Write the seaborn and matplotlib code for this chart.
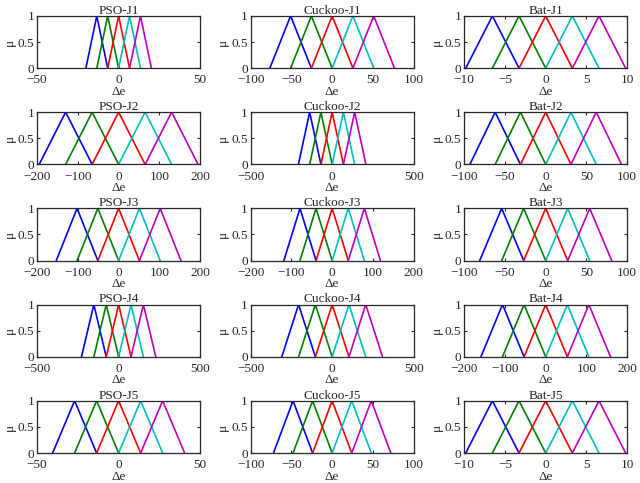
import numpy as np
import pandas as pd
import matplotlib
matplotlib.use("Agg")
import matplotlib.pyplot as plt
import seaborn as sns

# membership function spacing (distance between neighbouring peaks)
algos = ["PSO", "Cuckoo", "Bat"]
pso_spacing = [6.7, 65, 51, 76, 13.5]
cuckoo_spacing = [25.5, 69, 39.5, 103, 24]
bat_spacing = [3.27, 31, 27, 53, 3.27]
pso_xlim = [50, 200, 200, 500, 50]
cuckoo_xlim = [100, 500, 200, 500, 100]
bat_xlim = [10, 100, 100, 200, 10]
pso_ticks = [[-50, 0, 50], [-200, -100, 0, 100, 200], [-200, -100, 0, 100, 200], [-500, 0, 500], [-50, 0, 50]]
cuckoo_ticks = [[-100, -50, 0, 50, 100], [-500, 0, 500], [-200, -100, 0, 100, 200], [-500, 0, 500], [-100, -50, 0, 50, 100]]
bat_ticks = [[-10, -5, 0, 5, 10], [-100, -50, 0, 50, 100], [-100, -50, 0, 50, 100], [-200, -100, 0, 100, 200], [-10, -5, 0, 5, 10]]
mf_index = [-2, -1, 0, 1, 2]
mf_names = ["NB", "NS", "Z", "PS", "PB"]
colors = [(0, 0, 1), (0, 0.5, 0), (1, 0, 0), (0, 0.75, 0.75), (0.75, 0, 0.75)]

spacing = {"PSO": pso_spacing, "Cuckoo": cuckoo_spacing, "Bat": bat_spacing}
xlims = {"PSO": pso_xlim, "Cuckoo": cuckoo_xlim, "Bat": bat_xlim}
ticks = {"PSO": pso_ticks, "Cuckoo": cuckoo_ticks, "Bat": bat_ticks}

sns.set_style("ticks")
plt.rcParams['font.family'] = ['Liberation Serif', 'DejaVu Serif']

fig, axes = plt.subplots(5, 3, figsize=(6.4, 4.83), dpi=100)
fig.subplots_adjust(left=0.058, right=0.98, top=0.967, bottom=0.062, hspace=0.84, wspace=0.31)

for j, algo in enumerate(algos):
    for i in range(5):
        ax = axes[i, j]
        s = spacing[algo][i]
        rows = []
        for k, name in zip(mf_index, mf_names):
            c = k * s
            rows += [(c - s, 0, name), (c, 1, name), (c + s, 0, name)]
        df = pd.DataFrame(rows, columns=["x", "mu", "mf"])
        sns.lineplot(data=df, x="x", y="mu", hue="mf", palette=colors, sort=False,
                     estimator=None, legend=False, linewidth=1.2, ax=ax)
        lim = xlims[algo][i]
        ax.set_xlim(-lim, lim)
        ax.set_ylim(0, 1)
        ax.set_xticks(ticks[algo][i])
        ax.set_yticks([0, 0.5, 1])
        ax.set_yticklabels(["0", "0.5", "1"])
        ax.tick_params(direction="in", top=True, right=True, length=2.5, labelsize=9.5)
        ax.tick_params(axis="x", pad=4.5)
        ax.tick_params(axis="y", pad=2)
        ax.set_title(f"{algo}-J{i + 1}", fontsize=9.5, pad=1.5)
        ax.set_xlabel("Δe", fontsize=9.5, labelpad=-0.5)
        ax.set_ylabel("μ", fontsize=9.5, labelpad=1.5)
        for sp in ax.spines.values():
            sp.set_linewidth(0.9)

fig.savefig("out.png", dpi=100)
